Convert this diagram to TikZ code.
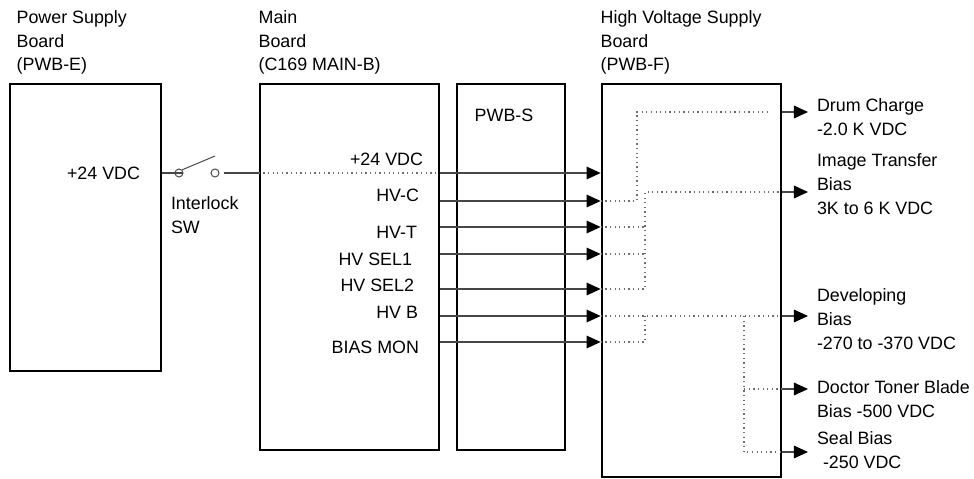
\documentclass[tikz,border=0pt]{standalone}
\usepackage{fontspec}
\setmainfont{Liberation Sans}
\usepackage{tikz}
\usetikzlibrary{arrows.meta, positioning}
\usepackage{xcolor}
\definecolor{hvwire}{RGB}{70,70,70}
\definecolor{hvdots}{RGB}{110,110,110}

\tikzset{
  board/.style={draw, line width=1.9pt, inner sep=0pt},
  wire/.style={draw=hvwire, line width=0.8pt},
  sig/.style={wire, -{Triangle[length=10pt, width=9pt, color=black]}},
  hidden/.style={draw=hvdots, line width=0.8pt, dash pattern=on 0.9pt off 2.4pt},
  lbl/.style={inner sep=0pt, outer sep=0pt, align=left},
  contact/.style={circle, draw=hvwire, line width=0.7pt, minimum size=0.2cm, inner sep=0pt}
}

\begin{document}
\begin{tikzpicture}[x=0.025cm, y=-0.025cm, font=\fontsize{12.7}{17}\selectfont]
  \useasboundingbox (0,0) rectangle (974,479);

  % Boards
  \node[board, minimum width=3.775cm, minimum height=7.175cm] (pwbe) at (85.5,227.5) {};
  \node[board, minimum width=4.475cm, minimum height=9.15cm] (main) at (349.5,267) {};
  \node[board, minimum width=2.7cm, minimum height=9.15cm] (pwbs) at (511,267) {};
  \node[board, minimum width=4.475cm, minimum height=9.825cm] (pwbf) at (691.5,280.5) {};

  % Board titles
  \node[lbl, above right=0.2cm and 0.2cm of pwbe.north west] (pwbetitle) {Power Supply\\Board\\(PWB-E)};
  \node[lbl, above right=0.2cm and 0cm of main.north west] (maintitle) {Main\\Board\\(C169 MAIN-B)};
  \node[lbl, above right=0.2cm and 0cm of pwbf.north west] (pwbftitle) {High Voltage Supply\\Board\\(PWB-F)};
  \node[lbl] (pwbslbl) at (504,115) {PWB-S};

  % Signal rows
  \coordinate (p24) at (0,173);
  \coordinate (hvc) at (0,201);
  \coordinate (hvt) at (0,227);
  \coordinate (sel1) at (0,254);
  \coordinate (sel2) at (0,289);
  \coordinate (hvb) at (0,316);
  \coordinate (bmon) at (0,342);
  % Output rows
  \coordinate (drum) at (0,112);
  \coordinate (xfer) at (0,192);
  \coordinate (blade) at (0,389);
  \coordinate (seal) at (0,452);
  % Buses inside PWB-F
  \coordinate (drumx) at (637,0);
  \coordinate (busx) at (645,0);
  \coordinate (bladex) at (744,0);

  % +24 VDC through interlock switch
  \node[lbl, anchor=east] (p24src) at (140,173) {+24 VDC};
  \node[contact] (swa) at (179,173) {};
  \node[contact] (swb) at (215,173) {};
  \coordinate (lever) at (215,156);
  \node[lbl, anchor=north west] (swlbl) at (171,197) {Interlock\\SW};
  \draw[wire] (pwbe.east |- p24) -- (swa.east);
  \draw[wire, line width=0.7pt] (swa.north east) -- (lever);
  \draw[wire, shorten <=0.125cm] (swb.east) -- (main.west |- p24);
  \draw[hidden] (main.west |- p24) -- (main.east |- p24);
  \draw[sig] (main.east |- p24) -- (pwbf.west |- p24);
  \node[lbl, anchor=east] (p24lbl) at (423,159) {+24 VDC};

  % Main board to PWB-F
  \foreach \nm/\x/\y/\txt in {hvc/419/195/HV-C, hvt/417/232/HV-T, sel1/412/259/HV SEL1,
                              sel2/414/285/HV SEL2, hvb/418/312/HV B, bmon/419/347/BIAS MON} {
    \node[lbl, anchor=east] (\nm lbl) at (\x,\y) {\txt};
    \draw[sig] (main.east |- \nm) -- (pwbf.west |- \nm);
  }

  % Routing inside PWB-F
  \draw[hidden, shorten >=0.275cm] (pwbf.west |- hvc) -| (drumx |- drum) -- (pwbf.east |- drum);
  \foreach \nm in {hvt, sel1}
    \draw[hidden] (pwbf.west |- \nm) -- (busx |- \nm);
  \draw[hidden] (pwbf.west |- sel2) -| (busx |- xfer) -- (pwbf.east |- xfer);
  \draw[hidden] (pwbf.west |- hvb) -- (pwbf.east |- hvb);
  \draw[hidden] (pwbf.west |- bmon) -| (busx |- hvb);
  \draw[hidden] (bladex |- hvb) |- (pwbf.east |- seal);
  \draw[hidden] (bladex |- blade) -- (pwbf.east |- blade);

  % Outputs
  \node[lbl, anchor=west] (drumlbl) at (817,117.5) {Drum Charge\\-2.0 K VDC};
  \node[lbl, anchor=west] (xferlbl) at (817,184) {Image Transfer\\Bias\\3K to 6 K VDC};
  \node[lbl, anchor=west] (devlbl) at (817,319) {Developing\\Bias\\-270 to -370 VDC};
  \node[lbl, anchor=west] (bladelbl) at (817,399.5) {Doctor Toner Blade\\Bias -500 VDC};
  \node[lbl, anchor=west] (seallbl) at (817,450) {Seal Bias\\\hspace{0.15cm}-250 VDC};
  \foreach \row/\dst in {drum/drumlbl, xfer/xferlbl, hvb/devlbl, blade/bladelbl, seal/seallbl}
    \draw[sig, shorten >=0.225cm] (pwbf.east |- \row) -- (\dst.west |- \row);
\end{tikzpicture}
\end{document}
